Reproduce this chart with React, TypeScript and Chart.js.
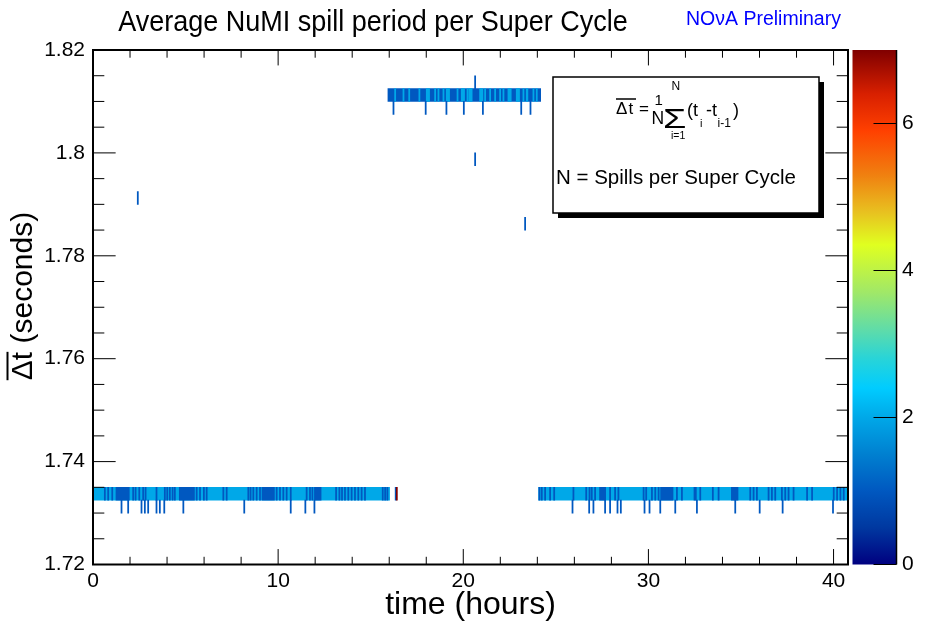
import React, { useEffect, useRef } from 'react';
import { Chart, registerables } from 'chart.js';

Chart.register(...registerables);

const FONT = "'Liberation Sans', Arial, Helvetica, sans-serif";

// ---------- axes ----------
const X_RANGE: [number, number] = [0, 40.78];
const X_TICKS = [0, 10, 20, 30, 40];
const Y_RANGE: [number, number] = [1.72, 1.82];
const Y_TICKS = [1.72, 1.74, 1.76, 1.78, 1.8, 1.82];
const Z_RANGE: [number, number] = [0, 7];
const Z_TICKS = [0, 2, 4, 6];

// ---------- histogram binning ----------
const Y_BIN = 0.0025; // seconds
const X_BIN = 0.06; // hours (one thin stripe)

// lower edges of the populated Δt bins (seconds)
const ROW_MAIN = 1.7325;
const ROW_MAIN_BELOW = 1.73;
const ROW_HIGH = 1.81;
const ROW_HIGH_BELOW = 1.8075;
const ROW_HIGH_ABOVE = 1.8125;

// ---------- data ----------
// main population row (1.7325–1.735 s): runs of 2-entry bins
const mainRowSpans: [number, number][] = [
  [0.0, 16.02],
  [24.07, 40.78],
];
// 1-entry runs inside the main row
const mainRowDarkBlocks: [number, number][] = [
  [1.24, 1.96], [4.66, 5.48], [9.13, 9.8], [11.96, 12.32],
  [27.36, 27.69], [30.66, 31.33], [32.46, 32.59], [34.48, 34.84],
];
const mainRowDarkLines: number[] = [
  0.61, 0.79, 1.01, 2.14, 2.27, 2.47, 2.68, 2.81, 3.4, 3.85, 3.98, 4.12, 4.27, 4.39,
  5.57, 5.75, 5.96, 6.11, 7.01, 7.19, 8.36, 8.48, 8.63, 8.81, 8.99, 9.89, 10.07, 10.25,
  10.43, 10.65, 11.51, 11.69, 11.82, 13.1, 13.28, 13.42, 13.58, 13.76, 13.94, 14.12,
  14.3, 14.48, 14.66, 15.62, 15.75, 15.87,
  24.08, 24.21, 24.39, 24.66, 24.88, 25.92, 26.61, 26.79, 26.91, 27.09, 27.9, 28.17,
  28.35, 29.71, 29.85, 30.16, 30.34, 30.52, 31.51, 31.78, 32.77, 33.45, 33.76, 35.47,
  35.65, 35.83, 36.46, 36.64, 36.82, 37.18, 37.36, 37.54, 37.81, 38.54, 38.81, 39.98,
  40.16, 40.34, 40.52,
];
const mainRowLateTimes = [16.32, 16.38];
const mainRowLateCounts = [1, 7];

// row just below the main population (1.73–1.7325 s), 1 entry each
const belowMainTimes: number[] = [
  1.51, 1.87, 2.59, 2.77, 2.95, 3.4, 3.58, 3.82, 4.85, 8.14, 10.65, 11.44, 11.93,
  25.87, 26.77, 27.0, 27.63, 27.9, 28.3, 28.48, 29.76, 30.03, 30.61, 31.42, 32.59,
  34.66, 35.98, 37.22, 39.94,
];

// high population row (1.81–1.8125 s): 1-entry base with 2-entry stripes
const highRowSpans: [number, number][] = [[15.93, 24.18]];
const highRowLightBlocks: [number, number][] = [
  [18.0, 18.18], [19.08, 19.26], [19.89, 20.07], [20.3, 20.48], [20.88, 21.06],
  [22.41, 22.59], [22.86, 23.04], [23.4, 23.49],
];
const highRowLightLines: number[] = [
  16.29, 16.74, 17.05, 17.6, 18.45, 18.63, 18.9, 19.66, 20.2, 21.15, 21.42, 21.69,
  21.96, 22.14, 23.22, 23.76, 23.94,
];
const belowHighTimes: number[] = [16.2, 17.94, 19.06, 20.0, 21.03, 23.1, 23.6];
const aboveHighTimes: number[] = [20.61];

// isolated super cycles
const strayTimes: number[] = [2.39, 20.61, 23.31];
const strayRows: number[] = [1.79, 1.7975, 1.785];

// ---------- palette (z = entries) ----------
const PALETTE_STOPS: [number, string][] = [
  [0.0, '#000080'],
  [0.5, '#0038a0'],
  [1.0, '#0058c0'],
  [1.5, '#0080d0'],
  [2.0, '#00a8e8'],
  [2.4, '#00ccff'],
  [2.8, '#28d4d8'],
  [3.2, '#60dca8'],
  [3.7, '#a0e868'],
  [4.35, '#e0ff20'],
  [4.8, '#e8c020'],
  [5.3, '#f08010'],
  [5.9, '#ff4000'],
  [6.4, '#d82000'],
  [7.0, '#800000'],
];

function hexToRgb(h: string): number[] {
  const n = parseInt(h.slice(1), 16);
  return [(n >> 16) & 255, (n >> 8) & 255, n & 255];
}
function paletteColor(v: number): string {
  const s = PALETTE_STOPS;
  if (v <= s[0][0]) return s[0][1];
  for (let i = 1; i < s.length; i++) {
    if (v <= s[i][0]) {
      const f = (v - s[i - 1][0]) / (s[i][0] - s[i - 1][0]);
      const a = hexToRgb(s[i - 1][1]);
      const b = hexToRgb(s[i][1]);
      return `rgb(${a.map((c, k) => Math.round(c + (b[k] - c) * f)).join(',')})`;
    }
  }
  return s[s.length - 1][1];
}

// ---------- build cells ----------
type Cell = { x: [number, number]; y: number; v: number };
function buildCells(): Cell[] {
  const cells: Cell[] = [];
  const mid = (edge: number) => edge + Y_BIN / 2;
  const spans = (list: [number, number][], row: number, v: number) =>
    list.forEach(([a, b]) => cells.push({ x: [a, b], y: mid(row), v }));
  const lines = (list: number[], row: number, v: number) =>
    list.forEach((t) => cells.push({ x: [t, t + X_BIN], y: mid(row), v }));

  spans(mainRowSpans, ROW_MAIN, 2);
  spans(mainRowDarkBlocks, ROW_MAIN, 1);
  lines(mainRowDarkLines, ROW_MAIN, 1);
  mainRowLateTimes.forEach((t, i) =>
    cells.push({ x: [t, t + X_BIN], y: mid(ROW_MAIN), v: mainRowLateCounts[i] })
  );
  lines(belowMainTimes, ROW_MAIN_BELOW, 1);
  spans(highRowSpans, ROW_HIGH, 1);
  spans(highRowLightBlocks, ROW_HIGH, 2);
  lines(highRowLightLines, ROW_HIGH, 2);
  lines(belowHighTimes, ROW_HIGH_BELOW, 1);
  lines(aboveHighTimes, ROW_HIGH_ABOVE, 1);
  strayTimes.forEach((t, i) => cells.push({ x: [t, t + X_BIN], y: mid(strayRows[i]), v: 1 }));
  return cells;
}

// ---------- ROOT-like decorations ----------
const X_MAJOR = 10, X_MINOR = 2;
const Y_MAJOR = 0.02, Y_MINOR = 0.005;

const rootPlugin = {
  id: 'rootDecor',
  afterDatasetsDraw(chart: any) {
    const { ctx, chartArea: a, scales } = chart;
    const xs = scales.x, ys = scales.y;
    const h = a.bottom - a.top, w = a.right - a.left;
    const xMaj = 0.03 * h, xMin = xMaj / 2;
    const yMaj = 0.03 * w, yMin = yMaj / 2;
    ctx.save();
    ctx.strokeStyle = '#000';
    ctx.lineWidth = 1;
    ctx.beginPath();
    const nx = Math.floor((X_RANGE[1] - X_RANGE[0]) / X_MINOR + 1e-9);
    const rx = Math.round(X_MAJOR / X_MINOR);
    for (let i = 0; i <= nx; i++) {
      const px = xs.getPixelForValue(X_RANGE[0] + i * X_MINOR);
      const L = i % rx === 0 ? xMaj : xMin;
      ctx.moveTo(px, a.bottom); ctx.lineTo(px, a.bottom - L);
      ctx.moveTo(px, a.top); ctx.lineTo(px, a.top + L);
    }
    const ny = Math.round((Y_RANGE[1] - Y_RANGE[0]) / Y_MINOR);
    const ry = Math.round(Y_MAJOR / Y_MINOR);
    for (let i = 0; i <= ny; i++) {
      const py = ys.getPixelForValue(Y_RANGE[0] + i * Y_MINOR);
      const L = i % ry === 0 ? yMaj : yMin;
      ctx.moveTo(a.left, py); ctx.lineTo(a.left + L, py);
      ctx.moveTo(a.right, py); ctx.lineTo(a.right - L, py);
    }
    ctx.stroke();
    ctx.lineWidth = 2;
    ctx.strokeRect(a.left, a.top, w, h);

    // formula box with shadow
    const bx = 553, by = 77, bw = 266, bh = 136;
    ctx.fillStyle = '#000';
    ctx.fillRect(bx + 5, by + 5, bw, bh);
    ctx.fillStyle = '#fff';
    ctx.fillRect(bx, by, bw, bh);
    ctx.lineWidth = 1.5;
    ctx.strokeRect(bx, by, bw, bh);

    ctx.fillStyle = '#000';
    ctx.textBaseline = 'alphabetic';
    ctx.textAlign = 'left';
    const t = (s: string, x: number, y: number, size: number, sx = 1) => {
      ctx.save();
      ctx.translate(x, y);
      ctx.scale(sx, 1);
      ctx.font = `${size}px ${FONT}`;
      ctx.fillText(s, 0, 0);
      ctx.restore();
    };
    t('\u0394', 616, 114, 17);
    t('t', 628.5, 114, 17);
    ctx.lineWidth = 1.5;
    ctx.beginPath();
    ctx.moveTo(616, 99); ctx.lineTo(636, 99);
    ctx.stroke();
    t('=', 639, 114, 17);
    t('1', 654.5, 105.3, 15);
    t('N', 651.5, 124, 17.5);
    t('\u03A3', 663, 128, 27, 1.4);
    t('N', 671.5, 89.7, 12);
    t('i=1', 671, 138.7, 10.5);
    t('(t', 687, 116, 18);
    t('i', 700, 127, 11);
    t('-t', 706, 116, 18);
    t('i-1', 717.5, 127, 12);
    t(')', 733, 116, 18);
    t('N = Spills per Super Cycle', 556, 184, 20.5);
    ctx.restore();
  },
  afterDraw(chart: any) {
    const { ctx, scales } = chart;
    const zs = scales.z;
    ctx.save();
    // colour bar
    const x0 = zs.left + 4.5, x1 = zs.left + 48.5;
    const yTop = zs.getPixelForValue(Z_RANGE[1]);
    const yBot = zs.getPixelForValue(Z_RANGE[0]);
    const g = ctx.createLinearGradient(0, yBot, 0, yTop);
    PALETTE_STOPS.forEach(([v, c]) => g.addColorStop((v - Z_RANGE[0]) / (Z_RANGE[1] - Z_RANGE[0]), c));
    ctx.fillStyle = g;
    ctx.fillRect(x0, yTop, x1 - x0, yBot - yTop);
    ctx.strokeStyle = '#000';
    ctx.lineWidth = 1.5;
    ctx.beginPath();
    ctx.moveTo(x1, yTop); ctx.lineTo(x1, yBot);
    ctx.stroke();
    ctx.lineWidth = 1;
    ctx.beginPath();
    Z_TICKS.forEach((v) => {
      const py = zs.getPixelForValue(v);
      ctx.moveTo(x1, py); ctx.lineTo(x1 - 23, py);
    });
    ctx.stroke();

    // title
    ctx.fillStyle = '#000';
    ctx.textBaseline = 'alphabetic';
    ctx.save();
    ctx.translate(373, 30.5);
    ctx.scale(0.9, 1);
    ctx.font = `30px ${FONT}`;
    ctx.textAlign = 'center';
    ctx.fillText('Average NuMI spill period per Super Cycle', 0, 0);
    ctx.restore();

    // NOvA Preliminary
    ctx.fillStyle = '#0000ff';
    ctx.font = `19.5px ${FONT}`;
    ctx.textAlign = 'left';
    ctx.fillText('NO\u03BDA Preliminary', 686, 25);

    // y-axis title with overline on Δt
    ctx.fillStyle = '#000';
    ctx.strokeStyle = '#000';
    ctx.save();
    ctx.translate(32, 296);
    ctx.rotate(-Math.PI / 2);
    ctx.font = `30px ${FONT}`;
    const full = '\u0394t (seconds)';
    const W = ctx.measureText(full).width;
    const w1 = ctx.measureText('\u0394t').width;
    ctx.textAlign = 'left';
    ctx.fillText(full, -W / 2, 0);
    ctx.lineWidth = 2;
    ctx.beginPath();
    ctx.moveTo(-W / 2, -24.5);
    ctx.lineTo(-W / 2 + w1, -24.5);
    ctx.stroke();
    ctx.restore();
    ctx.restore();
  },
};

export default function App() {
  const ref = useRef<HTMLCanvasElement>(null);
  useEffect(() => {
    const tickFont = { family: FONT, size: 21 };
    const noGrid = { display: false, drawTicks: false };
    const chart = new Chart(ref.current as HTMLCanvasElement, {
      type: 'bar',
      data: {
        datasets: [
          {
            data: buildCells() as any,
            backgroundColor: (c: any) => paletteColor(c.raw ? c.raw.v : 0),
            borderWidth: 0,
            grouped: false,
            categoryPercentage: 1,
            barPercentage: 1,
            xAxisID: 'x',
            yAxisID: 'y',
          } as any,
        ],
      },
      options: {
        indexAxis: 'y',
        responsive: false,
        animation: false,
        devicePixelRatio: 1,
        events: [],
        layout: { padding: { top: 50, left: 0, right: 0, bottom: 0 } },
        plugins: {
          legend: { display: false },
          tooltip: { enabled: false },
          title: { display: false },
        },
        scales: {
          x: {
            type: 'linear',
            position: 'bottom',
            min: X_RANGE[0],
            max: X_RANGE[1],
            offset: false,
            grid: noGrid,
            border: { display: false },
            ticks: {
              font: tickFont,
              color: '#000',
              padding: 4,
              maxRotation: 0,
              autoSkip: false,
              callback: (v: any) => String(v),
            },
            afterBuildTicks: (s: any) => {
              s.ticks = X_TICKS.map((v) => ({ value: v }));
            },
            afterFit: (s: any) => {
              s.height = 64.5;
            },
            title: {
              display: true,
              text: 'time (hours)',
              color: '#000',
              font: { family: FONT, size: 32 },
              padding: { top: 0, bottom: 5 },
            },
          },
          y: {
            type: 'linear',
            position: 'left',
            min: Y_RANGE[0],
            max: Y_RANGE[1],
            offset: false,
            grid: noGrid,
            border: { display: false },
            ticks: {
              font: tickFont,
              color: '#000',
              padding: 8,
              autoSkip: false,
              callback: (v: any) => String(Number(Number(v).toFixed(3))),
            },
            afterBuildTicks: (s: any) => {
              s.ticks = Y_TICKS.map((v) => ({ value: v }));
            },
            afterFit: (s: any) => {
              s.width = 93;
            },
          },
          z: {
            type: 'linear',
            position: 'right',
            min: Z_RANGE[0],
            max: Z_RANGE[1],
            offset: false,
            grid: { display: false, drawTicks: true, tickLength: 50 },
            border: { display: false },
            ticks: {
              font: tickFont,
              color: '#000',
              padding: 4,
              autoSkip: false,
              callback: (v: any) => String(v),
            },
            afterBuildTicks: (s: any) => {
              s.ticks = Z_TICKS.map((v) => ({ value: v }));
            },
            afterFit: (s: any) => {
              s.width = 82;
            },
          },
        } as any,
      },
      plugins: [rootPlugin],
    } as any);
    return () => chart.destroy();
  }, []);
  return (
    <div style={{ position: 'fixed', left: 0, top: 0, width: 930, height: 629, background: '#fff' }}>
      <canvas ref={ref} width={930} height={629} style={{ display: 'block' }} />
    </div>
  );
}
